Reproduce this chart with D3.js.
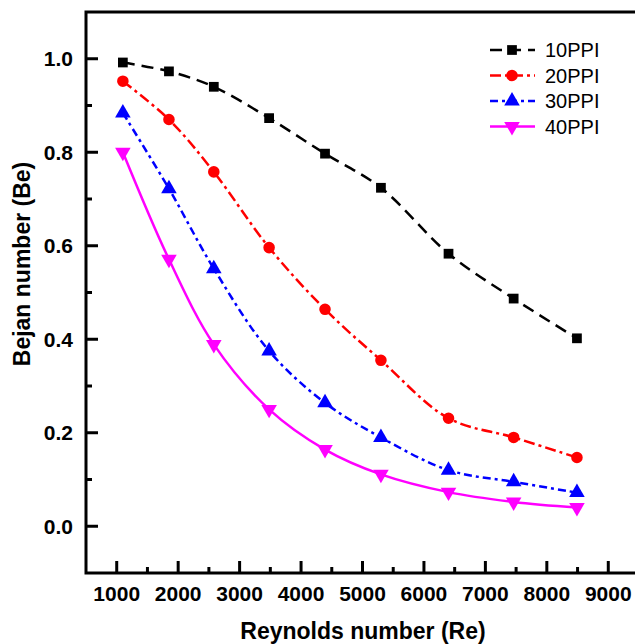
<!DOCTYPE html>
<html>
<head>
<meta charset="utf-8">
<script src="https://cdn.jsdelivr.net/npm/d3@7"></script>
<style>
  body { margin: 0; background: #fff; }
  svg { display: block; font-family: "Liberation Sans", Arial, sans-serif; }
</style>
</head>
<body>
<svg id="chart"></svg>
<script>
const width = 635;
const height = 644;
const margin = { top: 12, right: -4, bottom: 71, left: 86 };

// Reynolds numbers and Bejan numbers per pore density
const re = [1100, 1850, 2580, 3480, 4390, 5300, 6400, 7460, 8490];
const be10 = [0.992, 0.973, 0.940, 0.873, 0.797, 0.724, 0.583, 0.487, 0.402];
const be20 = [0.952, 0.870, 0.758, 0.596, 0.464, 0.355, 0.231, 0.190, 0.147];
const be30 = [0.884, 0.722, 0.551, 0.375, 0.264, 0.190, 0.120, 0.095, 0.072];
const be40 = [0.800, 0.571, 0.389, 0.250, 0.164, 0.111, 0.073, 0.052, 0.040];

const xTicks = [1000, 2000, 3000, 4000, 5000, 6000, 7000, 8000, 9000];
const yTicks = [0.0, 0.2, 0.4, 0.6, 0.8, 1.0];

const series = [
  { name: "10PPI", values: be10, color: "#000000", dash: "12,7", symbol: d3.symbolSquare, size: 95, rot: 0 },
  { name: "20PPI", values: be20, color: "#ff0000", dash: "11,4,3,4", symbol: d3.symbolCircle, size: 105, rot: 0 },
  { name: "30PPI", values: be30, color: "#0000ff", dash: "8,4,3,4", symbol: d3.symbolTriangle, size: 105, rot: 0 },
  { name: "40PPI", values: be40, color: "#ff00ff", dash: null, symbol: d3.symbolTriangle, size: 105, rot: 180 }
];

const svg = d3.select("#chart")
  .attr("width", width)
  .attr("height", height);

const x = d3.scaleLinear()
  .domain([500, 9500])
  .range([margin.left, width - margin.right]);

const y = d3.scaleLinear()
  .domain([-0.1, 1.1])
  .range([height - margin.bottom, margin.top]);

// curves
const line = d3.line()
  .x((d, i) => x(re[i]))
  .y(d => y(d))
  .curve(d3.curveCatmullRom.alpha(0.5));

series.forEach(s => {
  svg.append("path")
    .datum(s.values)
    .attr("fill", "none")
    .attr("stroke", s.color)
    .attr("stroke-width", 2.5)
    .attr("stroke-dasharray", s.dash)
    .attr("d", line);

  svg.append("g")
    .selectAll("path")
    .data(s.values)
    .enter()
    .append("path")
    .attr("d", d3.symbol().type(s.symbol).size(s.size))
    .attr("fill", s.color)
    .attr("transform", (d, i) => `translate(${x(re[i])},${y(d)}) rotate(${s.rot})`);
});

// bottom axis, inward ticks
const bottom = svg.append("g")
  .attr("transform", `translate(0,${height - margin.bottom})`);
bottom.selectAll("line")
  .data(d3.range(1000, 9001, 500))
  .enter()
  .append("line")
  .attr("x1", d => x(d))
  .attr("x2", d => x(d))
  .attr("y1", 0)
  .attr("y2", d => d % 1000 === 0 ? -12 : -6)
  .attr("stroke", "#000")
  .attr("stroke-width", 3);
bottom.selectAll("text")
  .data(xTicks)
  .enter()
  .append("text")
  .attr("x", d => x(d))
  .attr("y", 28)
  .attr("text-anchor", "middle")
  .attr("font-size", 21)
  .attr("font-weight", "bold")
  .text(d => d);

// left axis, inward ticks
const left = svg.append("g")
  .attr("transform", `translate(${margin.left},0)`);
left.selectAll("line")
  .data(d3.range(0, 11).map(i => i / 10))
  .enter()
  .append("line")
  .attr("x1", 0)
  .attr("x2", (d, i) => i % 2 === 0 ? 12 : 6)
  .attr("y1", d => y(d))
  .attr("y2", d => y(d))
  .attr("stroke", "#000")
  .attr("stroke-width", 3);
left.selectAll("text")
  .data(yTicks)
  .enter()
  .append("text")
  .attr("x", -13)
  .attr("y", d => y(d))
  .attr("dy", "0.36em")
  .attr("text-anchor", "end")
  .attr("font-size", 21)
  .attr("font-weight", "bold")
  .text(d => d.toFixed(1));

// frame
svg.append("rect")
  .attr("x", margin.left)
  .attr("y", margin.top)
  .attr("width", x.range()[1] - margin.left)
  .attr("height", y.range()[0] - margin.top)
  .attr("fill", "none")
  .attr("stroke", "#000")
  .attr("stroke-width", 3);

// axis titles
svg.append("text")
  .attr("x", 363)
  .attr("y", 639)
  .attr("text-anchor", "middle")
  .attr("font-size", 23)
  .attr("font-weight", "bold")
  .text("Reynolds number (Re)");

svg.append("text")
  .attr("transform", "translate(30,264) rotate(-90)")
  .attr("text-anchor", "middle")
  .attr("font-size", 23)
  .attr("font-weight", "bold")
  .text("Bejan number (Be)");

// legend
const legend = svg.append("g");
series.forEach((s, i) => {
  const ly = 50 + i * 25.5;
  legend.append("line")
    .attr("x1", 490)
    .attr("x2", 535)
    .attr("y1", ly)
    .attr("y2", ly)
    .attr("stroke", s.color)
    .attr("stroke-width", 2.5)
    .attr("stroke-dasharray", s.dash);
  legend.append("path")
    .attr("d", d3.symbol().type(s.symbol).size(s.size))
    .attr("fill", s.color)
    .attr("transform", `translate(512,${ly}) rotate(${s.rot})`);
  legend.append("text")
    .attr("x", 545)
    .attr("y", ly)
    .attr("dy", "0.36em")
    .attr("font-size", 20)
    .text(s.name);
});
</script>
</body>
</html>
